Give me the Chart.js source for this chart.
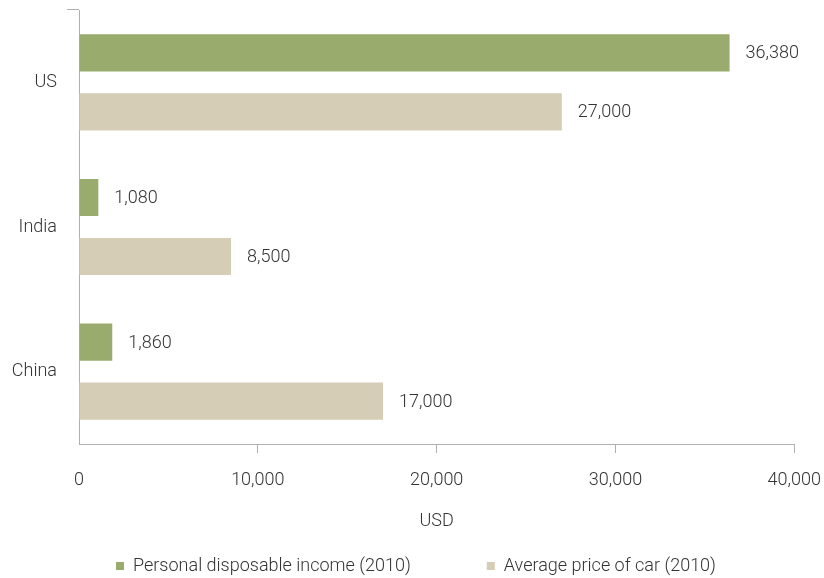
<!DOCTYPE html>
<html>
<head>
<meta charset="utf-8">
<script src="https://cdn.jsdelivr.net/npm/chart.js@4"></script>
<style>
  html, body { margin: 0; padding: 0; background: #fff; overflow: hidden; }
  #wrap { position: relative; width: 824px; height: 585px; }
</style>
</head>
<body>
<div id="wrap"><canvas id="c"></canvas></div>
<script>
const categories = ['US', 'India', 'China'];
const incomeLabel = 'Personal disposable income (2010)';
const carLabel = 'Average price of car (2010)';
const incomeValues = [36380, 1080, 1860];
const carPriceValues = [27000, 8500, 17000];
const xMin = 0;
const xMax = 40000;
const xStep = 10000;
const axisTitle = 'USD';

const FONT = "'Roboto', 'Liberation Sans', sans-serif";
const FS = 18;
const TEXT = '#333333';
const AXIS = '#b0b0b0';

const fmt = v => Number(v).toLocaleString('en-US');

const valueLabels = {
  id: 'valueLabels',
  afterLayout(chart) {
    // let axis texts extend beyond their layout boxes (avoid clipping)
    const x = chart.scales.x;
    x.bottom = x.top + 88;
    const y = chart.scales.y;
    y.left = 0;
  },
  afterDatasetsDraw(chart) {
    const ctx = chart.ctx;
    ctx.save();
    ctx.font = '300 ' + FS + 'px ' + FONT;
    ctx.fillStyle = TEXT;
    ctx.textBaseline = 'middle';
    ctx.textAlign = 'left';
    chart.data.datasets.forEach((ds, i) => {
      const meta = chart.getDatasetMeta(i);
      meta.data.forEach((el, j) => {
        ctx.fillText(fmt(ds.data[j]), el.x + 16, el.y + 1);
      });
    });
    ctx.restore();
  }
};

new Chart(document.getElementById('c'), {
  type: 'bar',
  data: {
    labels: categories,
    datasets: [
      { label: incomeLabel, data: incomeValues, backgroundColor: '#9aab6e', borderWidth: 0,
        categoryPercentage: 0.815, barPercentage: 0.63 },
      { label: carLabel, data: carPriceValues, backgroundColor: '#d6cdb6', borderWidth: 0,
        categoryPercentage: 0.815, barPercentage: 0.63 }
    ]
  },
  options: {
    indexAxis: 'y',
    responsive: true,
    maintainAspectRatio: false,
    animation: false,
    layout: { padding: { top: 10, right: 0, left: 8, bottom: 0 } },
    plugins: {
      tooltip: { enabled: false },
      legend: {
        position: 'bottom',
        labels: {
          font: { family: FONT, size: FS, weight: 300 },
          color: TEXT,
          boxWidth: 8,
          boxHeight: 8,
          padding: 76
        }
      }
    },
    scales: {
      x: {
        min: xMin,
        max: xMax,
        afterFit(scale) { scale.height = 37; },
        border: { display: true, color: AXIS, width: 1 },
        grid: {
          drawOnChartArea: false,
          drawTicks: true,
          tickLength: 23,
          tickBorderDash: [8, 200],
          color: ctx => ctx.index === 0 ? 'rgba(0,0,0,0)' : AXIS
        },
        ticks: {
          stepSize: xStep,
          autoSkip: false,
          font: { family: FONT, size: FS, weight: 300 },
          color: TEXT,
          padding: 3,
          maxRotation: 0,
          callback: v => fmt(v)
        },
        title: {
          display: true,
          text: axisTitle,
          font: { family: FONT, size: FS, weight: 300 },
          color: TEXT,
          padding: { top: 0, bottom: 0 }
        }
      },
      y: {
        afterFit(scale) { scale.width = 71; },
        border: { display: true, color: AXIS, width: 1 },
        grid: {
          offset: true,
          drawOnChartArea: false,
          drawTicks: true,
          tickLength: 22,
          tickBorderDash: [0, 10, 12, 200],
          color: ctx => ctx.index === 0 ? AXIS : 'rgba(0,0,0,0)'
        },
        ticks: {
          font: { family: FONT, size: FS, weight: 300, lineHeight: 1 },
          color: TEXT,
          padding: 0
        }
      }
    }
  },
  plugins: [valueLabels]
});
</script>
</body>
</html>
